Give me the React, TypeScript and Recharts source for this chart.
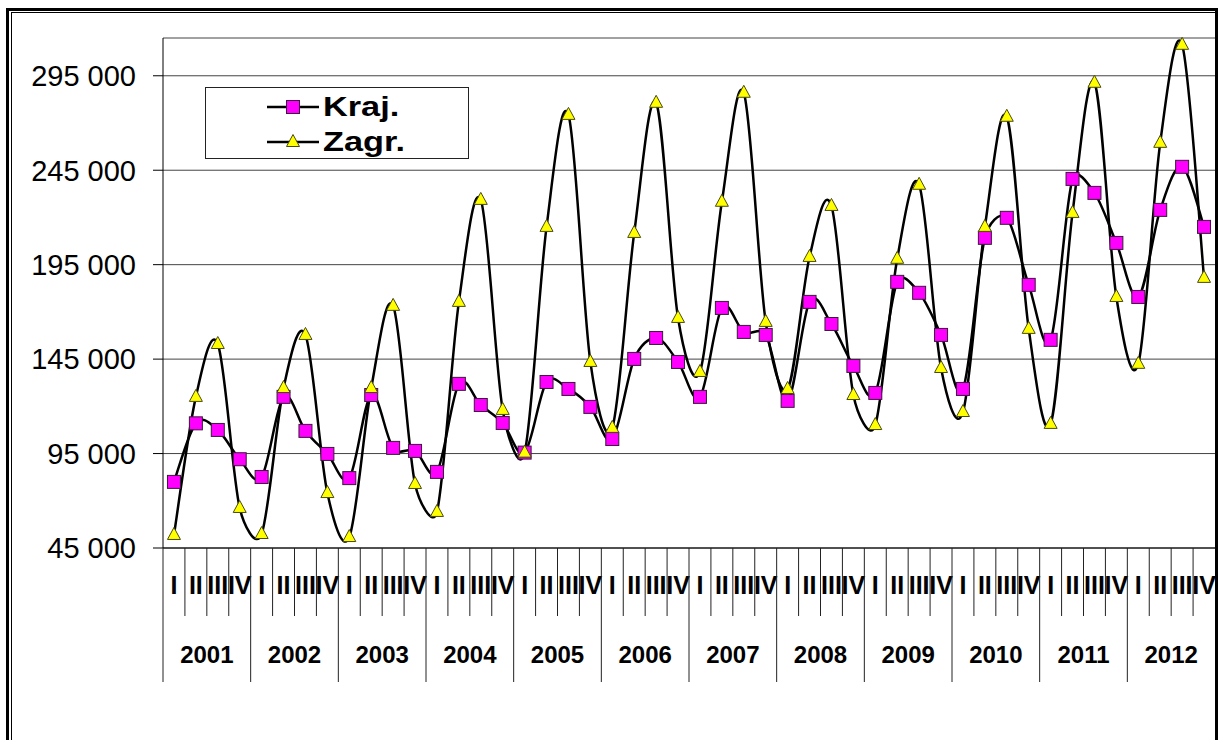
import { LineChart, Line, XAxis, YAxis, CartesianGrid } from "recharts";

const years = ["2001", "2002", "2003", "2004", "2005", "2006", "2007", "2008", "2009", "2010", "2011", "2012"];
const quarters = ["I", "II", "III", "IV"];

// Kraj. (squares) - one value per quarter, 2001 I .. 2012 IV
const kraj = [
  80000, 111000, 107500, 92000,
  82600, 125000, 107000, 94800,
  82000, 126000, 98000, 96400,
  85300, 131900, 120700, 111200,
  95500, 132900, 129200, 119700,
  102700, 145100, 156200, 143500,
  125000, 172100, 159400, 157800,
  122900, 175300, 163600, 141400,
  127100, 185900, 180100, 157800,
  129200, 209200, 219800, 184300,
  155200, 240400, 233000, 206500,
  177900, 224000, 246800, 215000,
];

// Zagr. (triangles)
const zagr = [
  51900, 125000, 153000, 66200,
  52400, 129700, 157800, 74100,
  50800, 129700, 173200, 78900,
  64100, 175300, 229300, 118100,
  95500, 215000, 274300, 143500,
  108600, 211800, 280700, 166800,
  138200, 228300, 286000, 164700,
  129200, 199100, 226100, 126000,
  110100, 198100, 237300, 140300,
  117000, 215000, 273300, 161000,
  110700, 222400, 291300, 177900,
  142500, 259500, 311400, 188000,
];

const yTicks = [45000, 95000, 145000, 195000, 245000, 295000];

const data = kraj.map((k, i) => ({
  key: `${years[Math.floor(i / 4)]}-${quarters[i % 4]}`,
  kraj: k,
  zagr: zagr[i],
}));

const FONT = "'Liberation Sans', Arial, sans-serif";
const W = 1218;
const H = 740;
const PLOT_LEFT = 163;
const PLOT_RIGHT = 1215;
const BAND = (PLOT_RIGHT - PLOT_LEFT) / data.length;

// Excel-like smoothed line: Catmull-Rom tangents, each handle capped at half its segment
const excelSmooth = (context: any) => {
  let pts: number[][] = [];
  const dist = (a: number[], b: number[]) => Math.hypot(b[0] - a[0], b[1] - a[1]);
  const handle = (prev: number[], cur: number[], next: number[], side: number[]) => {
    const tx = (next[0] - prev[0]) / 6;
    const ty = (next[1] - prev[1]) / 6;
    const len = Math.hypot(tx, ty) || 1;
    const k = Math.min(1, (0.5 * dist(cur, side)) / len);
    return [tx * k, ty * k];
  };
  return {
    areaStart() {},
    areaEnd() {},
    lineStart() {
      pts = [];
    },
    point(x: number, y: number) {
      pts.push([+x, +y]);
    },
    lineEnd() {
      const n = pts.length;
      if (!n) return;
      context.moveTo(pts[0][0], pts[0][1]);
      for (let i = 0; i < n - 1; i++) {
        const p0 = pts[i - 1] || pts[i];
        const p1 = pts[i];
        const p2 = pts[i + 1];
        const p3 = pts[i + 2] || p2;
        const a = handle(p0, p1, p2, p2);
        const b = handle(p1, p2, p3, p1);
        context.bezierCurveTo(p1[0] + a[0], p1[1] + a[1], p2[0] - b[0], p2[1] - b[1], p2[0], p2[1]);
      }
    },
  };
};

const SquareDot = ({ cx, cy }: any) => {
  if (cx == null || cy == null) return null;
  return <rect x={cx - 6.5} y={cy - 6.5} width={13} height={13} fill="#ff00ff" stroke="#3a1a3a" strokeWidth={1} />;
};

const TriangleDot = ({ cx, cy }: any) => {
  if (cx == null || cy == null) return null;
  return (
    <polygon
      points={`${cx},${cy - 7.5} ${cx + 6.5},${cy + 4.5} ${cx - 6.5},${cy + 4.5}`}
      fill="#ffff00"
      stroke="#4a4a10"
      strokeWidth={1}
    />
  );
};

const QuarterTick = (props: any) => {
  const { x, y, payload } = props;
  const i = payload.index;
  const q = i % 4;
  const half = BAND / 2;
  return (
    <g>
      <line x1={x - half} x2={x - half} y1={y} y2={y + (q === 0 ? 134 : 68)} stroke="#222" strokeWidth={1} />
      <text x={x} y={y + 46} textAnchor="middle" fontSize={25} fontWeight="bold" fontFamily={FONT} fill="#000">
        {quarters[q]}
      </text>
      {q === 1 && (
        <text x={x + half} y={y + 115} textAnchor="middle" fontSize={24} fontWeight="bold" fontFamily={FONT} fill="#000">
          {years[Math.floor(i / 4)]}
        </text>
      )}
    </g>
  );
};

const LegendBox = () => (
  <div
    style={{
      position: "absolute",
      left: 205,
      top: 87,
      width: 262,
      height: 70,
      border: "1px solid #222",
      background: "#fff",
      fontFamily: FONT,
      fontWeight: "bold",
      fontSize: 27,
      color: "#000",
    }}
  >
    {[
      { name: "Kraj.", dot: <SquareDot cx={26} cy={13} /> },
      { name: "Zagr.", dot: <TriangleDot cx={26} cy={13} /> },
    ].map((item, i) => (
      <div key={item.name} style={{ position: "absolute", left: 61, top: 6 + i * 35, height: 26, display: "flex", alignItems: "center" }}>
        <svg width={52} height={26}>
          <line x1={0} x2={52} y1={13} y2={13} stroke="#000" strokeWidth={2.5} />
          {item.dot}
        </svg>
        <span style={{ marginLeft: 4, lineHeight: "26px", display: "inline-block", transform: "scaleX(1.27)", transformOrigin: "left center" }}>
          {item.name}
        </span>
      </div>
    ))}
  </div>
);

export default function App() {
  return (
    <div style={{ position: "absolute", left: 0, top: 0, width: W, height: H, overflow: "hidden", background: "#fff" }}>
      <div style={{ position: "absolute", left: 6, top: 8, width: W - 6 - 6, height: H + 40, border: "3px solid #000" }} />
      <div style={{ position: "absolute", left: 11, top: 12, width: PLOT_RIGHT - 11 - 1, height: H + 40, border: "1px solid #000" }} />
      <div style={{ position: "absolute", left: 0, top: 0 }}>
        <LineChart width={W} height={H} data={data} margin={{ top: 38, right: W - PLOT_RIGHT, left: PLOT_LEFT - 150, bottom: 52 }}>
          <CartesianGrid vertical={false} stroke="#444" strokeWidth={1} />
          <XAxis
            dataKey="key"
            scale="band"
            interval={0}
            height={140}
            tickSize={0}
            tickMargin={0}
            axisLine={{ stroke: "#000", strokeWidth: 1 }}
            tickLine={false}
            tick={<QuarterTick />}
          />
          <YAxis
            width={150}
            domain={[45000, 315000]}
            ticks={yTicks}
            tickSize={10}
            tickMargin={17}
            axisLine={{ stroke: "#000", strokeWidth: 1 }}
            tickLine={{ stroke: "#000" }}
            tick={{ fill: "#000", fontSize: 29, fontFamily: FONT }}
            tickFormatter={(v: number) => `${Math.round(v / 1000)} 000`}
          />
          <Line
            dataKey="kraj"
            type={excelSmooth as any}
            stroke="#000"
            strokeWidth={2.5}
            dot={<SquareDot />}
            activeDot={false}
            isAnimationActive={false}
          />
          <Line
            dataKey="zagr"
            type={excelSmooth as any}
            stroke="#000"
            strokeWidth={2.5}
            dot={<TriangleDot />}
            activeDot={false}
            isAnimationActive={false}
          />
        </LineChart>
      </div>
      <LegendBox />
    </div>
  );
}
